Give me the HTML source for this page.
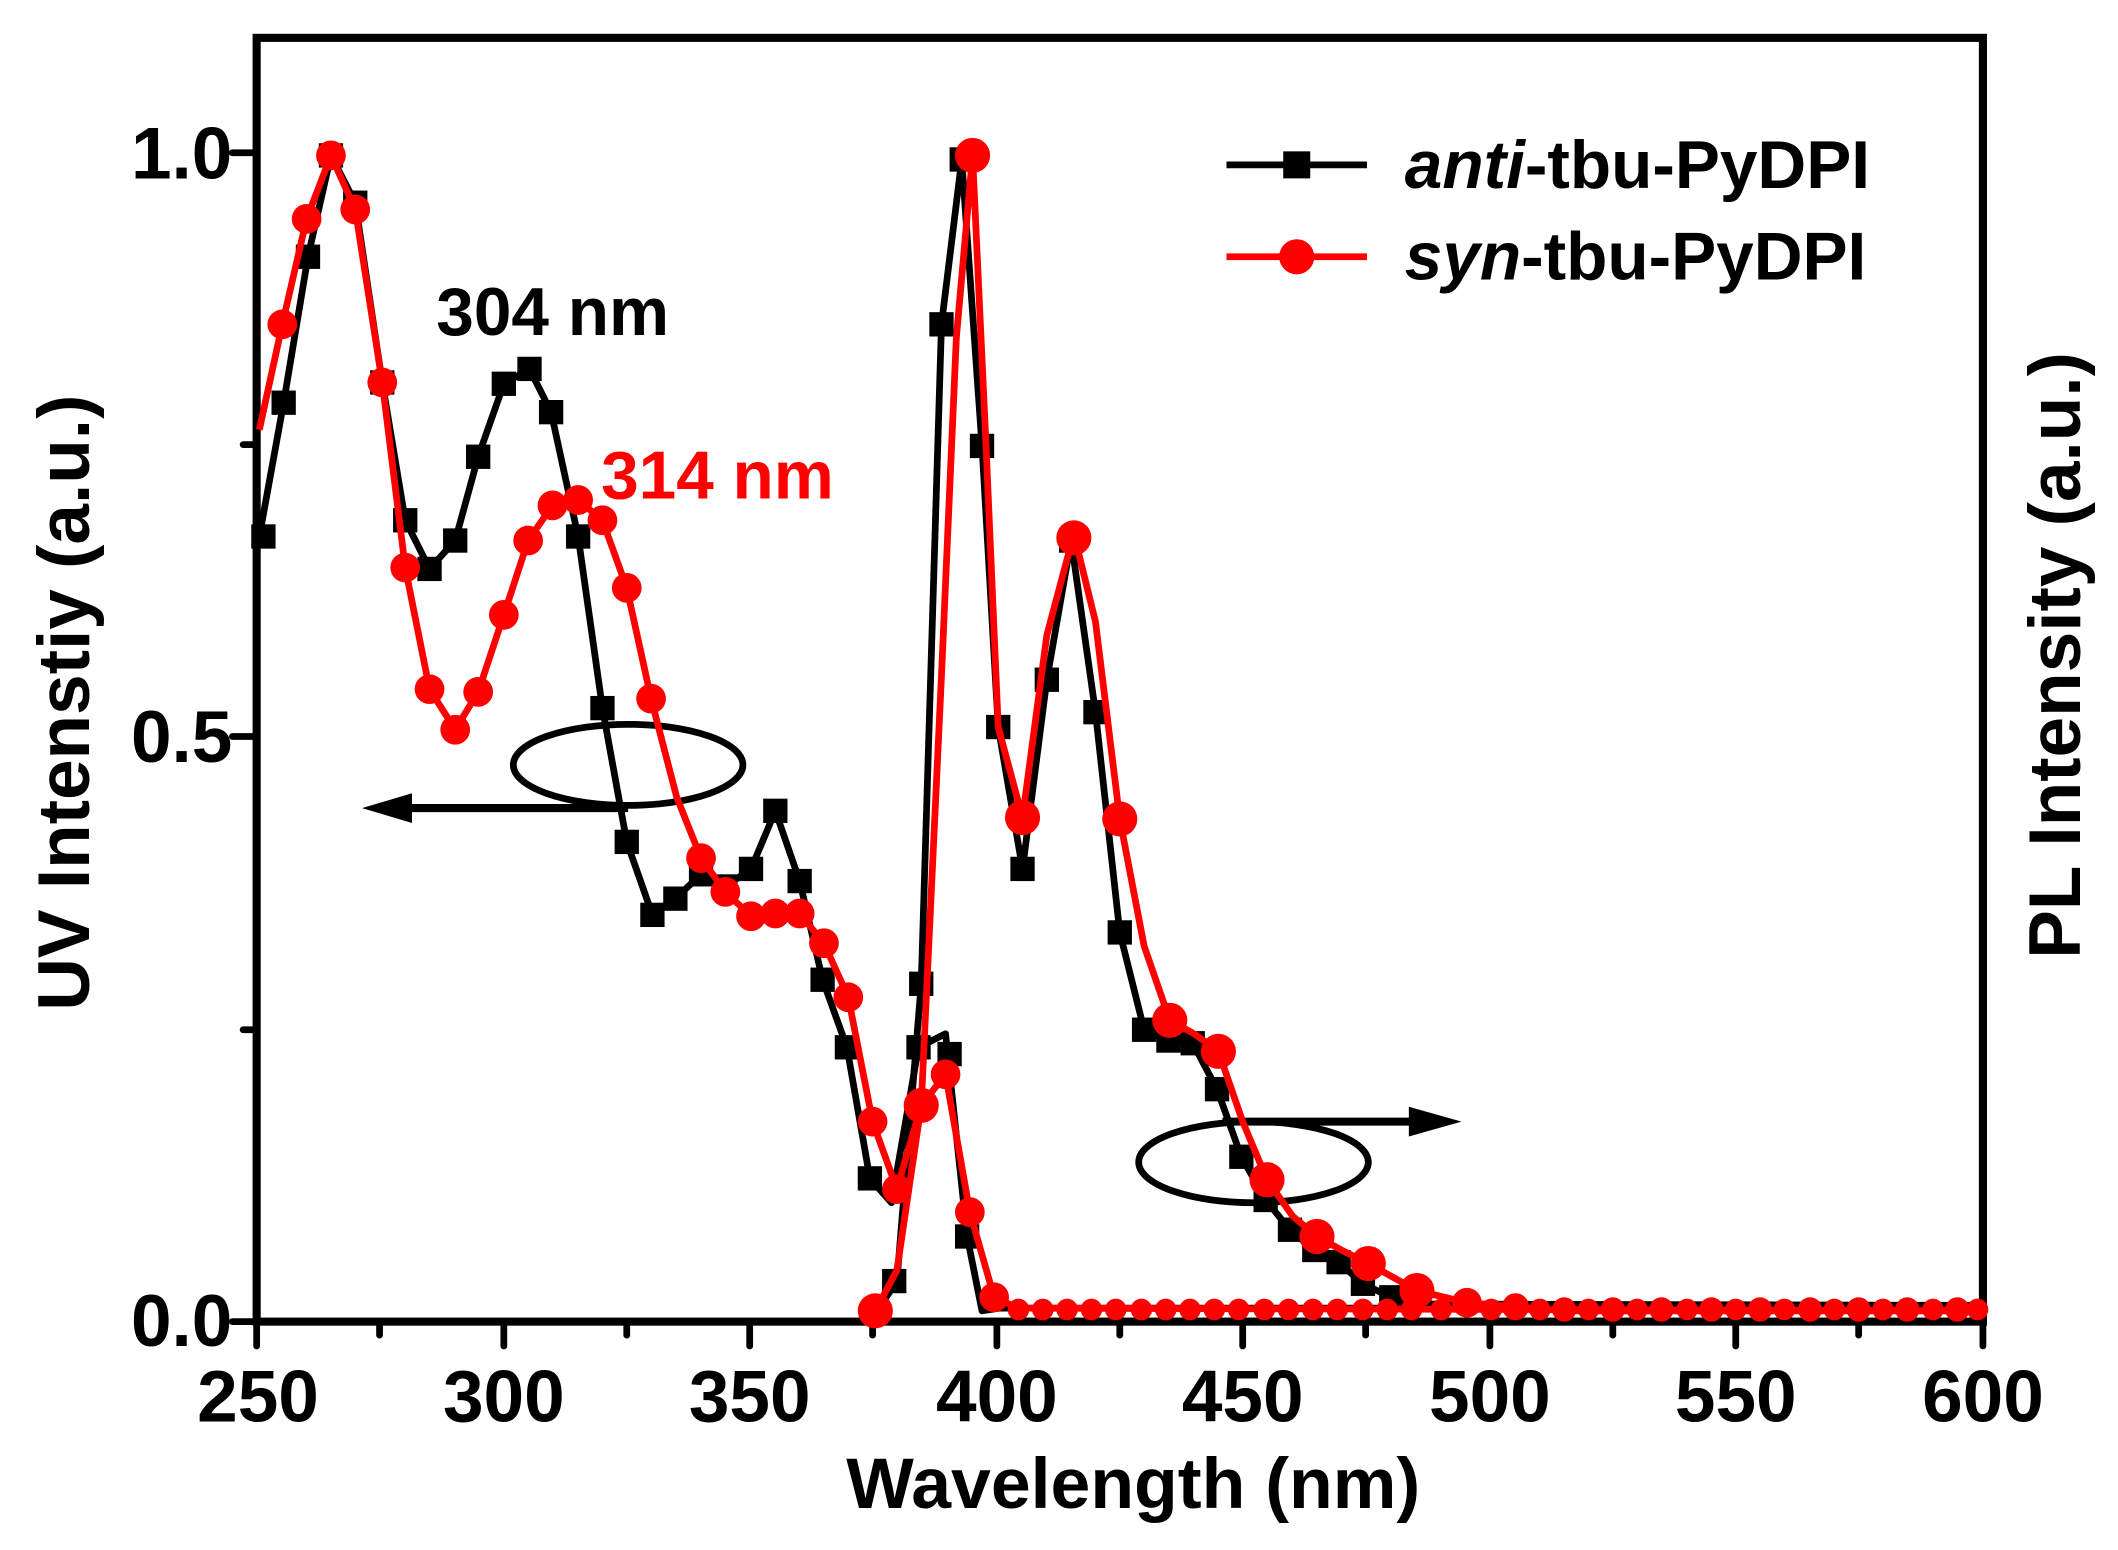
<!DOCTYPE html>
<html><head><meta charset="utf-8"><style>
html,body{margin:0;padding:0;background:#fff;}
svg{display:block;}
text{font-family:"Liberation Sans",sans-serif;font-weight:bold;}
</style></head><body>
<svg width="2118" height="1550" viewBox="0 0 1568 1147" preserveAspectRatio="none" xmlns="http://www.w3.org/2000/svg">
<!-- axes frame -->
<rect x="190" y="28" width="1278" height="950" fill="none" stroke="#000" stroke-width="6"/>
<!-- x ticks -->
<g stroke="#000" stroke-width="5" stroke-linecap="round">
<line x1="190" y1="978" x2="190" y2="996"/><line x1="373" y1="978" x2="373" y2="996"/><line x1="555" y1="978" x2="555" y2="996"/><line x1="738" y1="978" x2="738" y2="996"/><line x1="920" y1="978" x2="920" y2="996"/><line x1="1103" y1="978" x2="1103" y2="996"/><line x1="1285" y1="978" x2="1285" y2="996"/><line x1="1468" y1="978" x2="1468" y2="996"/>
<line x1="281" y1="978" x2="281" y2="988"/><line x1="464" y1="978" x2="464" y2="988"/><line x1="646" y1="978" x2="646" y2="988"/><line x1="829" y1="978" x2="829" y2="988"/><line x1="1011" y1="978" x2="1011" y2="988"/><line x1="1194" y1="978" x2="1194" y2="988"/><line x1="1376" y1="978" x2="1376" y2="988"/>
<line x1="172" y1="978" x2="190" y2="978"/><line x1="172" y1="545" x2="190" y2="545"/><line x1="172" y1="113" x2="190" y2="113"/>
<line x1="180" y1="762" x2="190" y2="762"/><line x1="180" y1="329" x2="190" y2="329"/>
</g>
<g font-size="54" text-anchor="middle" fill="#000">
<text x="191" y="1052">250</text><text x="373" y="1052">300</text><text x="555" y="1052">350</text><text x="738" y="1052">400</text><text x="920" y="1052">450</text><text x="1103" y="1052">500</text><text x="1285" y="1052">550</text><text x="1468" y="1052">600</text>
</g>
<g font-size="54" text-anchor="end">
<text x="172" y="996">0.0</text><text x="172" y="564">0.5</text><text x="172" y="132">1.0</text>
</g>
<text x="839" y="1116" font-size="53" text-anchor="middle">Wavelength (nm)</text>
<text transform="translate(66,520) rotate(-90)" font-size="54" text-anchor="middle">UV Intenstiy (a.u.)</text>
<text transform="translate(1540,485) rotate(-90)" font-size="54" text-anchor="middle">PL Intensity (a.u.)</text>

<!-- ellipses/arrows -->
<ellipse cx="465" cy="566" rx="85" ry="30" fill="none" stroke="#000" stroke-width="5"/>
<line x1="465" y1="598" x2="300" y2="598" stroke="#000" stroke-width="6"/>
<path d="M268,598 L305,587 L305,609 z" fill="#000"/>
<ellipse cx="928" cy="860" rx="85" ry="30" fill="none" stroke="#000" stroke-width="5"/>
<line x1="905" y1="830" x2="1050" y2="830" stroke="#000" stroke-width="6"/>
<path d="M1082,830 L1043,819 L1043,841 z" fill="#000"/>

<!-- black UV -->
<polyline fill="none" stroke="#000" stroke-width="5" stroke-linejoin="round" points="192,397 210,298 228,190 245,115 263,150 283,283 300,385 318,421 337,400 354,338 373,284 392,273 408,305 428,397 446,524 464,623 483,677 500,665 519,647 537,656 556,643 574,600 592,652 609,725 627,775 644,872 660,890 680,775 700,765 716,915 727,970 740,968 1468,968"/>
<!-- black PL -->
<polyline fill="none" stroke="#000" stroke-width="5" stroke-linejoin="round" points="646,975 664,948 682,728 697,240 712,118 727,330 739,538 757,643 775,503 793,400 811,527 829,690 847,762 865,770 883,772 901,806 919,856 937,888 955,910 973,925 991,934 1009,950 1030,960 1060,965 1468,966"/>
<g fill="#000">
<rect x="186" y="388" width="18" height="18"/><rect x="201" y="289" width="18" height="18"/><rect x="219" y="181" width="18" height="18"/><rect x="236" y="106" width="18" height="18"/><rect x="254" y="141" width="18" height="18"/><rect x="274" y="274" width="18" height="18"/><rect x="291" y="376" width="18" height="18"/><rect x="309" y="412" width="18" height="18"/><rect x="328" y="391" width="18" height="18"/><rect x="345" y="329" width="18" height="18"/><rect x="364" y="275" width="18" height="18"/><rect x="383" y="264" width="18" height="18"/><rect x="399" y="296" width="18" height="18"/><rect x="419" y="388" width="18" height="18"/><rect x="437" y="515" width="18" height="18"/><rect x="455" y="614" width="18" height="18"/><rect x="474" y="668" width="18" height="18"/><rect x="491" y="656" width="18" height="18"/><rect x="510" y="638" width="18" height="18"/><rect x="528" y="647" width="18" height="18"/><rect x="547" y="634" width="18" height="18"/><rect x="565" y="591" width="18" height="18"/><rect x="583" y="643" width="18" height="18"/><rect x="600" y="716" width="18" height="18"/><rect x="618" y="766" width="18" height="18"/><rect x="635" y="863" width="18" height="18"/><rect x="653" y="939" width="18" height="18"/><rect x="671" y="766" width="18" height="18"/><rect x="694" y="771" width="18" height="18"/><rect x="707" y="906" width="18" height="18"/>
<rect x="673" y="719" width="18" height="18"/><rect x="688" y="231" width="18" height="18"/><rect x="703" y="109" width="18" height="18"/><rect x="718" y="321" width="18" height="18"/><rect x="730" y="529" width="18" height="18"/><rect x="748" y="634" width="18" height="18"/><rect x="766" y="494" width="18" height="18"/><rect x="784" y="391" width="18" height="18"/><rect x="802" y="518" width="18" height="18"/><rect x="820" y="681" width="18" height="18"/><rect x="838" y="753" width="18" height="18"/><rect x="856" y="761" width="18" height="18"/><rect x="874" y="763" width="18" height="18"/><rect x="892" y="797" width="18" height="18"/><rect x="910" y="847" width="18" height="18"/><rect x="928" y="879" width="18" height="18"/><rect x="946" y="901" width="18" height="18"/><rect x="964" y="916" width="18" height="18"/><rect x="982" y="925" width="18" height="18"/><rect x="1000" y="941" width="18" height="18"/><rect x="1021" y="951" width="18" height="18"/>
</g>
<!-- red UV -->
<polyline fill="none" stroke="#f00" stroke-width="5" stroke-linejoin="round" points="192,318 209,240 227,162 245,115 263,155 283,283 300,420 318,510 337,540 354,512 373,455 391,400 409,374 428,370 446,385 464,435 482,517 501,590 519,635 537,660 556,678 574,676 592,676 610,698 628,738 646,830 664,880 682,818 700,795 718,897 736,960 754,968 1468,970"/>
<!-- red PL -->
<polyline fill="none" stroke="#f00" stroke-width="5" stroke-linejoin="round" points="648,970 664,940 682,818 697,500 708,250 720,115 730,330 739,538 757,605 775,470 795,395 811,460 829,606 847,700 866,755 884,765 902,778 920,830 938,873 957,900 975,915 993,925 1013,935 1031,945 1049,955 1086,964 1122,967 1158,970 1468,970"/>
<g fill="#f00">
<circle cx="209" cy="240" r="11"/><circle cx="227" cy="162" r="11"/><circle cx="245" cy="115" r="11"/><circle cx="263" cy="155" r="11"/><circle cx="283" cy="283" r="11"/><circle cx="300" cy="420" r="11"/><circle cx="318" cy="510" r="11"/><circle cx="337" cy="540" r="11"/><circle cx="354" cy="512" r="11"/><circle cx="373" cy="455" r="11"/><circle cx="391" cy="400" r="11"/><circle cx="409" cy="374" r="11"/><circle cx="428" cy="370" r="11"/><circle cx="446" cy="385" r="11"/><circle cx="464" cy="435" r="11"/><circle cx="482" cy="517" r="11"/><circle cx="519" cy="635" r="11"/><circle cx="537" cy="660" r="11"/><circle cx="556" cy="678" r="11"/><circle cx="574" cy="676" r="11"/><circle cx="592" cy="676" r="11"/><circle cx="610" cy="698" r="11"/><circle cx="628" cy="738" r="11"/><circle cx="646" cy="830" r="11"/><circle cx="664" cy="880" r="11"/><circle cx="682" cy="818" r="13"/><circle cx="700" cy="795" r="11"/><circle cx="718" cy="897" r="11"/><circle cx="736" cy="960" r="11"/>
<circle cx="648" cy="970" r="13"/><circle cx="720" cy="115" r="13"/><circle cx="757" cy="605" r="13"/><circle cx="795" cy="398" r="13"/><circle cx="829" cy="606" r="13"/><circle cx="866" cy="755" r="13"/><circle cx="902" cy="778" r="13"/><circle cx="938" cy="873" r="13"/><circle cx="975" cy="915" r="13"/><circle cx="1013" cy="935" r="13"/><circle cx="1049" cy="955" r="13"/><circle cx="1086" cy="964" r="11"/><circle cx="1122" cy="967" r="10"/><circle cx="1158" cy="969" r="9"/><circle cx="1194" cy="969" r="9"/><circle cx="1230" cy="969" r="9"/><circle cx="1267" cy="969" r="9"/><circle cx="1303" cy="969" r="9"/><circle cx="1340" cy="969" r="9"/><circle cx="1376" cy="969" r="9"/><circle cx="1412" cy="969" r="9"/><circle cx="1449" cy="969" r="9"/>
<circle cx="754" cy="969" r="8"/><circle cx="772" cy="969" r="8"/><circle cx="790" cy="969" r="8"/><circle cx="808" cy="969" r="8"/><circle cx="826" cy="969" r="8"/><circle cx="845" cy="969" r="8"/><circle cx="863" cy="969" r="8"/><circle cx="881" cy="969" r="8"/><circle cx="899" cy="969" r="8"/><circle cx="917" cy="969" r="8"/><circle cx="936" cy="969" r="8"/><circle cx="954" cy="969" r="8"/><circle cx="972" cy="969" r="8"/><circle cx="990" cy="969" r="8"/><circle cx="1009" cy="969" r="8"/><circle cx="1027" cy="969" r="8"/><circle cx="1045" cy="969" r="8"/><circle cx="1067" cy="969" r="8"/><circle cx="1104" cy="969" r="8"/><circle cx="1140" cy="969" r="8"/><circle cx="1176" cy="969" r="8"/><circle cx="1212" cy="969" r="8"/><circle cx="1249" cy="969" r="8"/><circle cx="1285" cy="969" r="8"/><circle cx="1321" cy="969" r="8"/><circle cx="1358" cy="969" r="8"/><circle cx="1394" cy="969" r="8"/><circle cx="1431" cy="969" r="8"/><circle cx="1464" cy="969" r="8"/>
</g>
<!-- annotations -->
<text x="323" y="248" font-size="50" fill="#000">304 nm</text>
<text x="445" y="369" font-size="50" fill="#f00">314 nm</text>
<!-- legend -->
<line x1="908" y1="122" x2="1012" y2="122" stroke="#000" stroke-width="5"/>
<rect x="950" y="112" width="20" height="20" fill="#000"/>
<text x="1040" y="139" font-size="50"><tspan font-style="italic">anti</tspan>-tbu-PyDPI</text>
<line x1="908" y1="190" x2="1012" y2="190" stroke="#f00" stroke-width="5"/>
<circle cx="960" cy="190" r="13" fill="#f00"/>
<text x="1040" y="207" font-size="50"><tspan font-style="italic">syn</tspan>-tbu-PyDPI</text>
</svg>
</body></html>
